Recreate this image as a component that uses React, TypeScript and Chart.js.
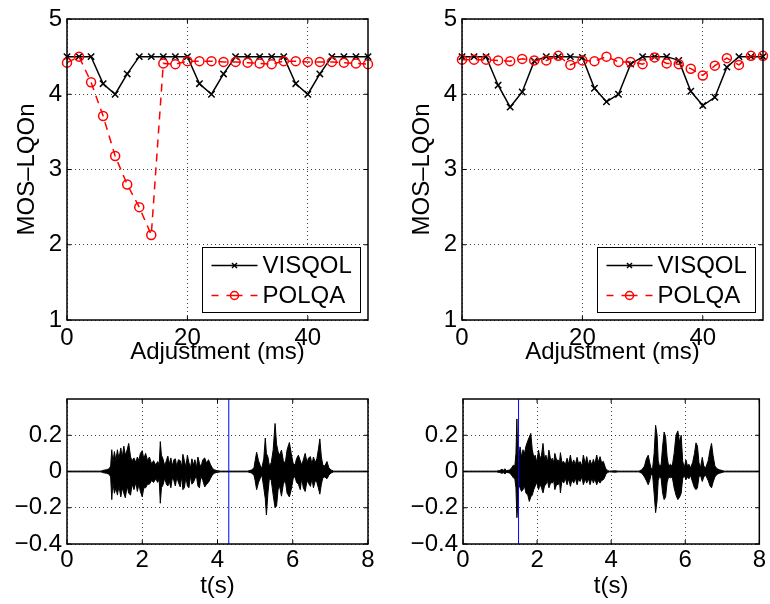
import React, { useEffect, useRef } from 'react';
import { Chart, registerables } from 'chart.js';

Chart.register(...registerables);

const FONT = '"Liberation Sans", Arial, Helvetica, sans-serif';

// ---------- Top panels: MOS-LQOn vs adjustment ----------
const adjustMs = [0, 2, 4, 6, 8, 10, 12, 14, 16, 18, 20, 22, 24, 26, 28, 30, 32, 34, 36, 38, 40, 42, 44, 46, 48, 50];

const visqolLeft = [4.5, 4.5, 4.5, 4.14, 4.0, 4.27, 4.5, 4.5, 4.5, 4.5, 4.5, 4.14, 4.0, 4.27, 4.5, 4.5, 4.5, 4.5, 4.5, 4.14, 4.0, 4.27, 4.5, 4.5, 4.5, 4.5];
const polqaLeft = [4.42, 4.5, 4.16, 3.71, 3.18, 2.8, 2.5, 2.13, 4.41, 4.4, 4.44, 4.44, 4.44, 4.43, 4.43, 4.42, 4.41, 4.4, 4.44, 4.44, 4.43, 4.43, 4.43, 4.42, 4.41, 4.4];

const visqolRight = [4.5, 4.5, 4.5, 4.12, 3.83, 4.03, 4.44, 4.5, 4.5, 4.5, 4.49, 4.08, 3.9, 4.0, 4.4, 4.5, 4.5, 4.5, 4.45, 4.04, 3.85, 3.96, 4.36, 4.5, 4.5, 4.5];
const polqaRight = [4.46, 4.46, 4.46, 4.45, 4.44, 4.47, 4.45, 4.45, 4.51, 4.39, 4.45, 4.44, 4.5, 4.43, 4.43, 4.4, 4.49, 4.41, 4.4, 4.34, 4.25, 4.38, 4.48, 4.39, 4.51, 4.51];

const seriesNames = ['VISQOL', 'POLQA'];
const mosTicks = [1, 2, 3, 4, 5];
const adjustTicks = [0, 20, 40];

// ---------- Bottom panels: waveforms (envelope: time, upper, lower) ----------
const waveLeftT = [0, 0.9, 0.95, 1.05, 1.12, 1.16, 1.19, 1.22, 1.26, 1.3, 1.34, 1.38, 1.43, 1.47, 1.51, 1.55, 1.6, 1.64, 1.69, 1.73, 1.78, 1.83, 1.87, 1.91, 1.95, 2.0, 2.04, 2.09, 2.14, 2.19, 2.25, 2.3, 2.36, 2.41, 2.45, 2.48, 2.51, 2.55, 2.6, 2.64, 2.68, 2.72, 2.76, 2.8, 2.84, 2.88, 2.92, 2.96, 3.01, 3.05, 3.08, 3.12, 3.16, 3.2, 3.24, 3.28, 3.32, 3.36, 3.4, 3.44, 3.48, 3.52, 3.56, 3.61, 3.66, 3.71, 3.76, 3.81, 3.86, 3.91, 3.98, 4.08, 4.8, 4.9, 4.97, 5.0, 5.04, 5.09, 5.14, 5.18, 5.23, 5.27, 5.3, 5.34, 5.38, 5.43, 5.48, 5.53, 5.57, 5.61, 5.65, 5.7, 5.75, 5.8, 5.85, 5.91, 5.96, 6.01, 6.06, 6.1, 6.15, 6.2, 6.24, 6.28, 6.33, 6.38, 6.42, 6.47, 6.51, 6.55, 6.6, 6.64, 6.68, 6.72, 6.76, 6.8, 6.85, 6.91, 6.96, 7.02, 7.09, 8.0];
const waveLeftHi = [0.002, 0.002, 0.006, 0.01, 0.015, 0.03, 0.12, 0.05, 0.11, 0.06, 0.12, 0.07, 0.13, 0.08, 0.14, 0.09, 0.12, 0.155, 0.08, 0.06, 0.075, 0.05, 0.08, 0.06, 0.1, 0.115, 0.07, 0.1, 0.06, 0.08, 0.04, 0.06, 0.035, 0.055, 0.035, 0.165, 0.09, 0.07, 0.03, 0.06, 0.085, 0.04, 0.075, 0.03, 0.065, 0.07, 0.025, 0.065, 0.06, 0.025, 0.095, 0.06, 0.025, 0.09, 0.05, 0.02, 0.07, 0.035, 0.065, 0.02, 0.08, 0.045, 0.025, 0.065, 0.075, 0.045, 0.065, 0.04, 0.02, 0.01, 0.005, 0.002, 0.002, 0.008, 0.02, 0.06, 0.106, 0.06, 0.03, 0.02, 0.07, 0.185, 0.1, 0.08, 0.03, 0.05, 0.12, 0.265, 0.15, 0.11, 0.09, 0.118, 0.06, 0.045, 0.12, 0.16, 0.1, 0.045, 0.036, 0.07, 0.09, 0.06, 0.035, 0.064, 0.1, 0.05, 0.075, 0.082, 0.04, 0.08, 0.05, 0.07, 0.12, 0.18, 0.08, 0.035, 0.03, 0.055, 0.02, 0.008, 0.002, 0.002];
const waveLeftLo = [-0.002, -0.002, -0.006, -0.01, -0.015, -0.03, -0.155, -0.06, -0.12, -0.09, -0.13, -0.08, -0.14, -0.09, -0.12, -0.145, -0.08, -0.12, -0.13, -0.07, -0.1, -0.06, -0.11, -0.07, -0.11, -0.14, -0.09, -0.09, -0.07, -0.07, -0.05, -0.06, -0.04, -0.06, -0.04, -0.175, -0.09, -0.075, -0.035, -0.07, -0.08, -0.055, -0.09, -0.035, -0.05, -0.08, -0.03, -0.06, -0.085, -0.025, -0.1, -0.09, -0.03, -0.08, -0.09, -0.025, -0.07, -0.06, -0.04, -0.025, -0.08, -0.09, -0.025, -0.05, -0.085, -0.07, -0.06, -0.04, -0.02, -0.01, -0.005, -0.002, -0.002, -0.008, -0.02, -0.05, -0.1, -0.06, -0.035, -0.02, -0.09, -0.15, -0.24, -0.12, -0.035, -0.05, -0.13, -0.2, -0.19, -0.1, -0.08, -0.136, -0.07, -0.045, -0.12, -0.14, -0.1, -0.04, -0.027, -0.06, -0.07, -0.1, -0.035, -0.09, -0.11, -0.05, -0.065, -0.082, -0.04, -0.09, -0.05, -0.06, -0.09, -0.125, -0.07, -0.035, -0.03, -0.04, -0.02, -0.008, -0.002, -0.002];

const waveRightT = [0, 0.9, 0.99, 1.06, 1.1, 1.13, 1.17, 1.26, 1.31, 1.36, 1.4, 1.43, 1.455, 1.475, 1.5, 1.54, 1.58, 1.62, 1.66, 1.7, 1.75, 1.79, 1.83, 1.87, 1.91, 1.95, 1.99, 2.04, 2.08, 2.12, 2.16, 2.2, 2.24, 2.28, 2.32, 2.37, 2.41, 2.45, 2.48, 2.53, 2.57, 2.6, 2.63, 2.67, 2.72, 2.76, 2.81, 2.85, 2.9, 2.94, 2.99, 3.03, 3.08, 3.12, 3.16, 3.21, 3.25, 3.3, 3.34, 3.39, 3.43, 3.48, 3.52, 3.56, 3.61, 3.65, 3.7, 3.74, 3.79, 3.83, 3.85, 3.9, 3.95, 4.1, 4.2, 4.75, 4.83, 4.9, 4.95, 5.0, 5.04, 5.08, 5.12, 5.16, 5.2, 5.24, 5.27, 5.31, 5.35, 5.39, 5.43, 5.47, 5.51, 5.55, 5.6, 5.65, 5.7, 5.75, 5.8, 5.85, 5.89, 5.93, 5.97, 6.02, 6.06, 6.1, 6.14, 6.2, 6.25, 6.29, 6.33, 6.37, 6.41, 6.46, 6.5, 6.55, 6.62, 6.67, 6.71, 6.75, 6.8, 6.86, 6.92, 7.0, 7.06, 8.0];
const waveRightHi = [0.002, 0.002, 0.006, 0.012, 0.006, 0.015, 0.005, 0.008, 0.02, 0.035, 0.03, 0.1, 0.29, 0.12, 0.06, 0.136, 0.08, 0.12, 0.1, 0.14, 0.17, 0.19, 0.21, 0.12, 0.08, 0.09, 0.05, 0.118, 0.07, 0.09, 0.155, 0.07, 0.09, 0.05, 0.118, 0.06, 0.073, 0.05, 0.1, 0.06, 0.064, 0.04, 0.104, 0.05, 0.055, 0.035, 0.073, 0.04, 0.091, 0.04, 0.064, 0.035, 0.078, 0.04, 0.055, 0.03, 0.091, 0.04, 0.082, 0.035, 0.064, 0.035, 0.067, 0.04, 0.091, 0.05, 0.082, 0.05, 0.055, 0.03, 0.018, 0.006, 0.002, 0.004, 0.002, 0.002, 0.01, 0.03, 0.07, 0.09, 0.05, 0.015, 0.02, 0.1, 0.255, 0.2, 0.06, 0.025, 0.04, 0.14, 0.218, 0.19, 0.08, 0.03, 0.04, 0.03, 0.1, 0.2, 0.224, 0.16, 0.2, 0.06, 0.02, 0.064, 0.03, 0.04, 0.02, 0.05, 0.1, 0.158, 0.14, 0.05, 0.02, 0.078, 0.03, 0.02, 0.06, 0.12, 0.155, 0.09, 0.03, 0.015, 0.01, 0.005, 0.002, 0.002];
const waveRightLo = [-0.002, -0.002, -0.006, -0.01, -0.006, -0.014, -0.005, -0.008, -0.02, -0.035, -0.04, -0.09, -0.255, -0.2, -0.07, -0.09, -0.11, -0.1, -0.08, -0.12, -0.13, -0.165, -0.14, -0.13, -0.1, -0.08, -0.06, -0.1, -0.07, -0.09, -0.118, -0.08, -0.07, -0.05, -0.09, -0.06, -0.064, -0.05, -0.1, -0.07, -0.073, -0.04, -0.118, -0.05, -0.064, -0.035, -0.073, -0.04, -0.082, -0.045, -0.064, -0.035, -0.073, -0.04, -0.055, -0.03, -0.073, -0.04, -0.064, -0.04, -0.073, -0.035, -0.064, -0.04, -0.073, -0.05, -0.064, -0.05, -0.045, -0.03, -0.018, -0.006, -0.002, -0.004, -0.002, -0.002, -0.01, -0.03, -0.05, -0.073, -0.05, -0.015, -0.02, -0.12, -0.227, -0.16, -0.05, -0.025, -0.04, -0.12, -0.155, -0.14, -0.06, -0.03, -0.035, -0.03, -0.09, -0.13, -0.155, -0.14, -0.12, -0.04, -0.02, -0.045, -0.03, -0.04, -0.02, -0.06, -0.09, -0.1, -0.09, -0.03, -0.02, -0.055, -0.03, -0.02, -0.05, -0.08, -0.09, -0.06, -0.03, -0.015, -0.01, -0.005, -0.002, -0.002];

const cursorLeft = 4.3;
const cursorRight = 1.5;
const timeTicks = [0, 2, 4, 6, 8];
const ampTicks = [-0.4, -0.2, 0, 0.2];

// ---------- helpers ----------
const font24 = { family: FONT, size: 24, lineHeight: 1 };

function strokeLine(ctx: CanvasRenderingContext2D, x1: number, y1: number, x2: number, y2: number) {
  ctx.beginPath();
  ctx.moveTo(x1, y1);
  ctx.lineTo(x2, y2);
  ctx.stroke();
}

const matlabFrame = {
  id: 'matlabFrame',
  afterDraw(chart: any, _args: any, opts: any) {
    const ctx: CanvasRenderingContext2D = chart.ctx;
    const a = chart.chartArea;
    const xs = chart.scales.x;
    const ys = chart.scales.y;
    ctx.save();
    ctx.setLineDash([]);
    ctx.strokeStyle = '#000';
    ctx.lineWidth = 1;
    xs.ticks.forEach((t: any) => {
      const p = xs.getPixelForValue(t.value);
      strokeLine(ctx, p, a.bottom, p, a.bottom - 4);
      strokeLine(ctx, p, a.top, p, a.top + 4);
    });
    ys.ticks.forEach((t: any) => {
      const p = ys.getPixelForValue(t.value);
      strokeLine(ctx, a.left, p, a.left + 4, p);
      strokeLine(ctx, a.right, p, a.right - 4, p);
    });
    ctx.lineWidth = 1.5;
    ctx.strokeRect(a.left, a.top, a.right - a.left, a.bottom - a.top);

    if (opts && opts.showLegend) {
      const w = 158;
      const h = 65;
      const bx = Math.round(a.right - 8 - w) + 0.5;
      const by = Math.round(a.bottom - 8 - h) + 0.5;
      ctx.fillStyle = '#fff';
      ctx.fillRect(bx, by, w, h);
      ctx.strokeStyle = '#000';
      ctx.lineWidth = 1;
      ctx.strokeRect(bx, by, w, h);
      chart.data.datasets.forEach((ds: any, i: number) => {
        const cy = by + 18 + i * 30;
        const cx = bx + 32;
        ctx.strokeStyle = ds.borderColor;
        ctx.lineWidth = ds.borderWidth;
        ctx.setLineDash(ds.borderDash ? [7, 8, 16, 8] : []);
        strokeLine(ctx, bx + 9, cy, bx + 55, cy);
        ctx.setLineDash([]);
        ctx.lineWidth = 1.5;
        if (ds.pointStyle === 'crossRot') {
          strokeLine(ctx, cx - 2.5, cy - 2.5, cx + 2.5, cy + 2.5);
          strokeLine(ctx, cx - 2.5, cy + 2.5, cx + 2.5, cy - 2.5);
        } else {
          ctx.beginPath();
          ctx.arc(cx, cy, 4, 0, Math.PI * 2);
          ctx.stroke();
        }
        ctx.fillStyle = '#000';
        ctx.font = `24px ${FONT}`;
        ctx.textAlign = 'left';
        ctx.textBaseline = 'middle';
        ctx.fillText(ds.label, bx + 60, cy + 1);
      });
    }
    ctx.restore();
  },
};

const gridStyle = { color: 'rgba(0,0,0,0.75)', lineWidth: 1, drawTicks: false };
const dotted = { display: false, dash: [1, 3] };

function fmtAmp(v: number) {
  const r = Math.round(v * 10) / 10;
  if (!ampTicks.includes(r)) return '';
  if (r === 0) return '0';
  return r < 0 ? '\u2212' + String(Math.abs(r)) : String(r);
}

function mosConfig(visqol: number[], polqa: number[], padRight: number) {
  return {
    type: 'line',
    data: {
      datasets: [
        {
          label: seriesNames[0],
          data: adjustMs.map((x, i) => ({ x, y: visqol[i] })),
          borderColor: '#000',
          borderWidth: 1.5,
          pointStyle: 'crossRot',
          pointRadius: 4.5,
          pointBorderWidth: 1.5,
          pointBorderColor: '#000',
          pointBackgroundColor: 'rgba(0,0,0,0)',
          fill: false,
          tension: 0,
          clip: false,
          order: 1,
        },
        {
          label: seriesNames[1],
          data: adjustMs.map((x, i) => ({ x, y: polqa[i] })),
          borderColor: '#ff0000',
          borderWidth: 1.5,
          borderDash: [8, 6],
          pointStyle: 'circle',
          pointRadius: 4.5,
          pointBorderWidth: 1.5,
          pointBorderColor: '#ff0000',
          pointBackgroundColor: 'rgba(0,0,0,0)',
          fill: false,
          tension: 0,
          clip: false,
          order: 0,
        },
      ],
    },
    options: {
      animation: false,
      responsive: false,
      maintainAspectRatio: false,
      events: [],
      layout: { padding: { top: 19, right: padRight, left: 0, bottom: 0 } },
      plugins: {
        legend: { display: false },
        tooltip: { enabled: false },
        matlabFrame: { showLegend: true },
      },
      scales: {
        x: {
          type: 'linear',
          min: 0,
          max: 50,
          afterBuildTicks: (s: any) => { s.ticks = adjustTicks.map((v) => ({ value: v })); },
          ticks: { font: font24, color: '#000', padding: 6, maxRotation: 0, autoSkip: false, callback: (v: number) => String(v) },
          grid: gridStyle,
          border: dotted,
          title: { display: true, text: 'Adjustment (ms)', font: font24, color: '#000', padding: { top: 0, bottom: 16 } },
          afterFit: (s: any) => { s.height = 60; },
        },
        y: {
          type: 'linear',
          min: 1,
          max: 5,
          afterBuildTicks: (s: any) => { s.ticks = mosTicks.map((v) => ({ value: v })); },
          ticks: { font: font24, color: '#000', padding: 5, autoSkip: false, callback: (v: number) => String(v) },
          grid: gridStyle,
          border: dotted,
          title: { display: true, text: 'MOS\u2013LQOn', font: font24, color: '#000', padding: { top: 15.5, bottom: 0 } },
          afterFit: (s: any) => { s.width = 67; },
        },
      },
    },
    plugins: [matlabFrame],
  };
}

function waveConfig(t: number[], hi: number[], lo: number[], cursor: number, yAxisWidth: number, padRight: number) {
  return {
    type: 'line',
    data: {
      datasets: [
        {
          label: 'upper',
          data: t.map((x, i) => ({ x, y: hi[i] })),
          borderColor: '#000',
          borderWidth: 1,
          pointRadius: 0,
          fill: '+1',
          backgroundColor: '#000',
          tension: 0,
          order: 1,
        },
        {
          label: 'lower',
          data: t.map((x, i) => ({ x, y: lo[i] })),
          borderColor: '#000',
          borderWidth: 1,
          pointRadius: 0,
          fill: false,
          tension: 0,
          order: 1,
        },
        {
          label: 'cursor',
          data: [{ x: cursor, y: -0.4 }, { x: cursor, y: 0.4 }],
          borderColor: '#0000ff',
          borderWidth: 1,
          pointRadius: 0,
          fill: false,
          order: 0,
        },
      ],
    },
    options: {
      animation: false,
      responsive: false,
      maintainAspectRatio: false,
      events: [],
      layout: { padding: { top: 19, right: padRight, left: 0, bottom: 0 } },
      plugins: {
        legend: { display: false },
        tooltip: { enabled: false },
        matlabFrame: { showLegend: false },
      },
      scales: {
        x: {
          type: 'linear',
          min: 0,
          max: 8,
          afterBuildTicks: (s: any) => { s.ticks = timeTicks.map((v) => ({ value: v })); },
          ticks: { font: font24, color: '#000', padding: 4, maxRotation: 0, autoSkip: false, callback: (v: number) => String(v) },
          grid: gridStyle,
          border: dotted,
          title: { display: true, text: 't(s)', font: font24, color: '#000', padding: { top: 0, bottom: 6 } },
          afterFit: (s: any) => { s.height = 60; },
        },
        y: {
          type: 'linear',
          min: -0.4,
          max: 0.4,
          afterBuildTicks: (s: any) => { s.ticks = ampTicks.map((v) => ({ value: v })); },
          ticks: { font: font24, color: '#000', padding: 5, autoSkip: false, callback: (v: number) => fmtAmp(v) },
          grid: gridStyle,
          border: dotted,
          afterFit: (s: any) => { s.width = yAxisWidth; },
        },
      },
    },
    plugins: [matlabFrame],
  };
}

function ChartCanvas(props: { left: number; top: number; width: number; height: number; make: () => any }) {
  const ref = useRef<HTMLCanvasElement>(null);
  useEffect(() => {
    const chart = new Chart(ref.current as HTMLCanvasElement, props.make());
    return () => chart.destroy();
  }, []);
  return (
    <canvas
      ref={ref}
      width={props.width}
      height={props.height}
      style={{ position: 'absolute', left: props.left, top: props.top, width: props.width, height: props.height }}
    />
  );
}

export default function App() {
  return (
    <div style={{ position: 'absolute', left: 0, top: 0, width: 770, height: 604, background: '#fff', overflow: 'hidden' }}>
      <ChartCanvas left={0} top={0} width={390} height={380} make={() => mosConfig(visqolLeft, polqaLeft, 22)} />
      <ChartCanvas left={395} top={0} width={375} height={380} make={() => mosConfig(visqolRight, polqaRight, 7)} />
      <ChartCanvas left={0} top={380} width={390} height={224} make={() => waveConfig(waveLeftT, waveLeftHi, waveLeftLo, cursorLeft, 67, 22)} />
      <ChartCanvas left={395} top={380} width={375} height={224} make={() => waveConfig(waveRightT, waveRightHi, waveRightLo, cursorRight, 68, 7)} />
    </div>
  );
}
